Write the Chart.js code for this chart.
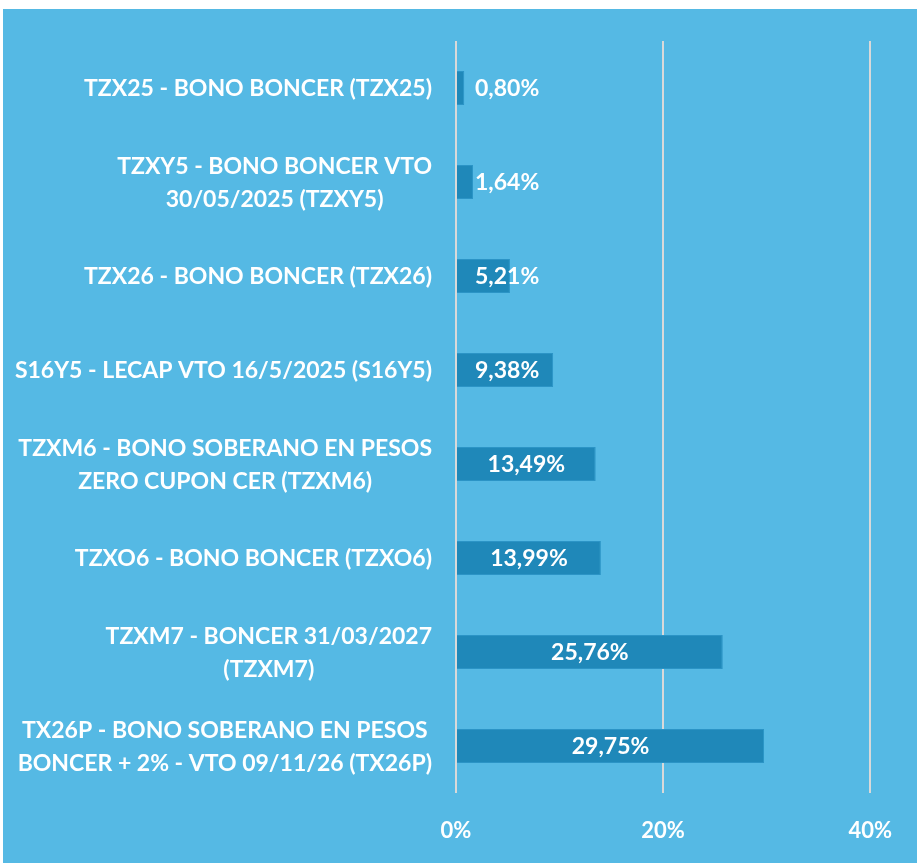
<!DOCTYPE html>
<html>
<head>
<meta charset="utf-8">
<script src="https://cdn.jsdelivr.net/npm/chart.js@4.4.1/dist/chart.umd.min.js"></script>
<style>
  html, body { margin: 0; padding: 0; background: #ffffff; }
  #wrap { width: 917px; height: 868px; position: relative; }
</style>
</head>
<body>
<div id="wrap"><canvas id="c" width="917" height="868"></canvas></div>
<script>
const categories = [
  'TZX25 - BONO BONCER (TZX25)',
  ['TZXY5 - BONO BONCER VTO', '30/05/2025 (TZXY5)'],
  'TZX26 - BONO BONCER (TZX26)',
  'S16Y5 - LECAP VTO 16/5/2025 (S16Y5)',
  ['TZXM6 - BONO SOBERANO EN PESOS', 'ZERO CUPON CER (TZXM6)'],
  'TZXO6 - BONO BONCER (TZXO6)',
  ['TZXM7 - BONCER 31/03/2027', '(TZXM7)'],
  ['TX26P - BONO SOBERANO EN PESOS', 'BONCER + 2% - VTO 09/11/26 (TX26P)']
];
const values = [0.80, 1.64, 5.21, 9.38, 13.49, 13.99, 25.76, 29.75];
const xTickValues = [0, 20, 40];

const FONT_FAMILY = 'Lato, "Open Sans", sans-serif';
const LABEL_FONT = 'bold 23px ' + FONT_FAMILY;
const VALUE_FONT = 'bold 23px ' + FONT_FAMILY;

const bgPlugin = {
  id: 'bg',
  beforeDraw(chart) {
    const ctx = chart.ctx;
    ctx.save();
    ctx.fillStyle = '#ffffff';
    ctx.fillRect(0, 0, chart.width, chart.height);
    ctx.fillStyle = '#55b9e4';
    ctx.fillRect(3, 9, chart.width - 3, 854);
    ctx.restore();
  }
};

const catLabelPlugin = {
  id: 'catLabels',
  afterDraw(chart) {
    const ctx = chart.ctx;
    const yScale = chart.scales.y;
    const rightEdge = chart.chartArea.left - 24;
    const lineH = 33;
    ctx.save();
    ctx.font = LABEL_FONT;
    ctx.fillStyle = '#ffffff';
    ctx.textAlign = 'center';
    ctx.textBaseline = 'middle';
    categories.forEach((lab, i) => {
      const lines = Array.isArray(lab) ? lab : [lab];
      const w = Math.max(...lines.map(l => ctx.measureText(l).width));
      const cx = rightEdge - w / 2;
      const cy = yScale.getPixelForTick(i) + 1;
      const y0 = cy - (lines.length - 1) * lineH / 2;
      lines.forEach((l, j) => ctx.fillText(l, cx, y0 + j * lineH));
    });
    ctx.restore();
  }
};

const valueLabelPlugin = {
  id: 'valueLabels',
  afterDatasetsDraw(chart) {
    const ctx = chart.ctx;
    const meta = chart.getDatasetMeta(0);
    ctx.save();
    ctx.font = VALUE_FONT;
    ctx.fillStyle = '#ffffff';
    ctx.textAlign = 'center';
    ctx.textBaseline = 'middle';
    meta.data.forEach((bar, i) => {
      const txt = values[i].toFixed(2).replace('.', ',') + '%';
      const w = ctx.measureText(txt).width;
      const center = (bar.x + bar.base) / 2;
      const cx = Math.max(center, bar.base + 18 + w / 2);
      ctx.fillText(txt, cx, bar.y + 1);
    });
    ctx.restore();
  }
};

new Chart(document.getElementById('c'), {
  type: 'bar',
  data: {
    labels: categories,
    datasets: [{
      data: values,
      backgroundColor: '#1f88b9',
      borderColor: '#2b94c6',
      borderWidth: 1,
      categoryPercentage: 1,
      barPercentage: 0.36
    }]
  },
  options: {
    indexAxis: 'y',
    responsive: false,
    animation: false,
    devicePixelRatio: 1,
    layout: { padding: { left: 0, right: 43, top: 41, bottom: 0 } },
    plugins: { legend: { display: false }, tooltip: { enabled: false } },
    scales: {
      x: {
        min: 0, max: 40,
        afterBuildTicks(s) { s.ticks = xTickValues.map(v => ({ value: v })); },
        afterFit(s) { s.height = 75; },
        grid: { color: '#d9d9d9', lineWidth: 2, drawTicks: false },
        border: { display: false },
        ticks: {
          color: '#ffffff',
          font: { family: FONT_FAMILY, size: 22, weight: 'bold' },
          padding: 25,
          callback: v => v + '%'
        }
      },
      y: {
        afterFit(s) { s.width = 456; },
        grid: { display: false },
        border: { display: false },
        ticks: { display: false }
      }
    }
  },
  plugins: [bgPlugin, catLabelPlugin, valueLabelPlugin]
});
</script>
</body>
</html>
